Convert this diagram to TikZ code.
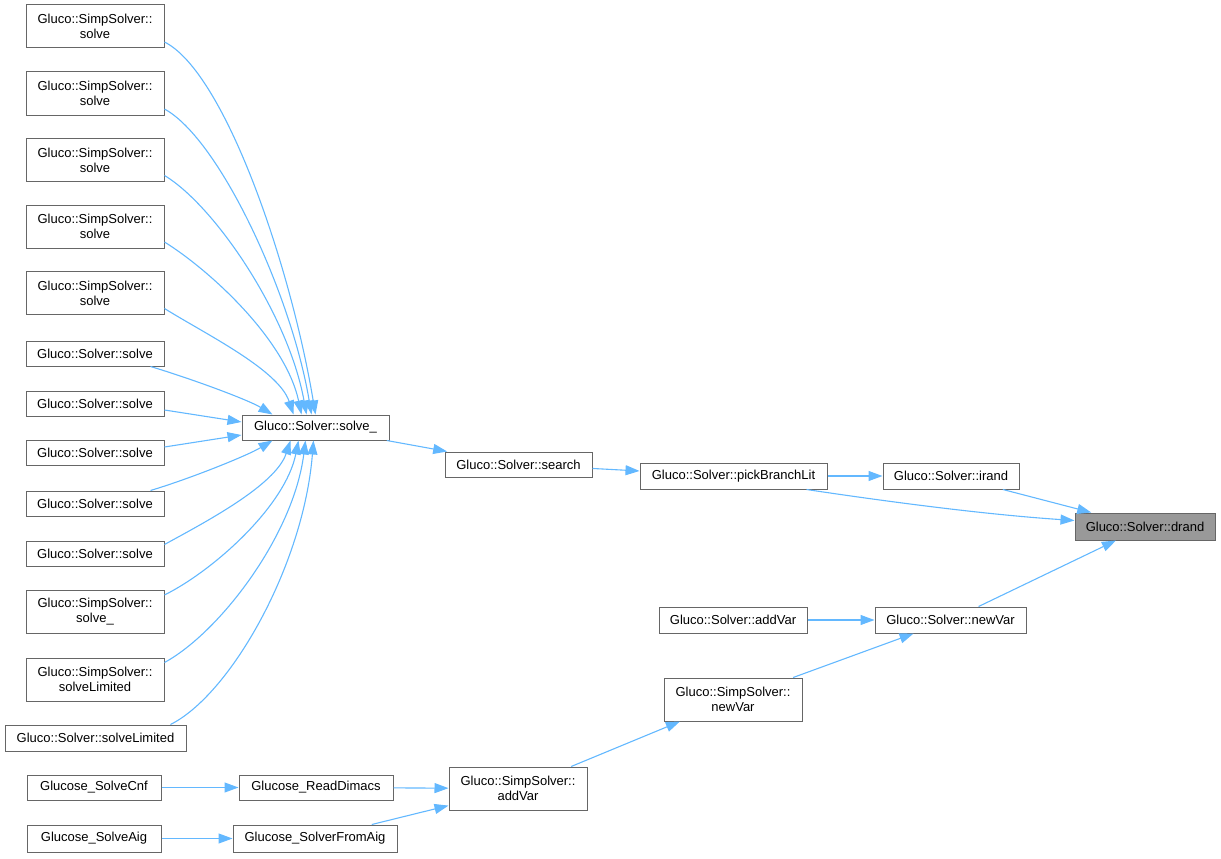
\documentclass[tikz,border=0pt]{standalone}
\usepackage{fontspec}
\setmainfont{Liberation Sans}
\usetikzlibrary{arrows.meta}
\definecolor{edgeblue}{HTML}{63B8FF}
\definecolor{boxgray}{HTML}{666666}
\definecolor{hlgray}{HTML}{999999}
\tikzset{
  box/.style={draw=boxgray, line width=1pt, fill=white, inner sep=0pt, align=center,
    font=\fontsize{13}{15}\selectfont},
  hl/.style={box, fill=hlgray},
  edge/.style={draw=edgeblue, line width=1.1pt, -{Triangle[length=14pt,width=10pt]}},
}
\begin{document}
\begin{tikzpicture}[x=1pt,y=-1pt]
\useasboundingbox (0,0) rectangle (1221,859);
% left column
\node[box, minimum width=138pt, minimum height=43pt] (s1) at (95,26.5) {Gluco::SimpSolver::\\solve};
\node[box, minimum width=138pt, minimum height=43pt] (s2) at (95,93.5) {Gluco::SimpSolver::\\solve};
\node[box, minimum width=138pt, minimum height=43pt] (s3) at (95,160) {Gluco::SimpSolver::\\solve};
\node[box, minimum width=138pt, minimum height=43pt] (s4) at (95,226.5) {Gluco::SimpSolver::\\solve};
\node[box, minimum width=138pt, minimum height=43pt] (s5) at (95,293) {Gluco::SimpSolver::\\solve};
\node[box, minimum width=138pt, minimum height=25pt] (v1) at (95,353.5) {Gluco::Solver::solve};
\node[box, minimum width=138pt, minimum height=25pt] (v2) at (95,403.5) {Gluco::Solver::solve};
\node[box, minimum width=138pt, minimum height=25pt] (v3) at (95,453) {Gluco::Solver::solve};
\node[box, minimum width=138pt, minimum height=25pt] (v4) at (95,503.5) {Gluco::Solver::solve};
\node[box, minimum width=138pt, minimum height=25pt] (v5) at (95,553.5) {Gluco::Solver::solve};
\node[box, minimum width=138pt, minimum height=43pt] (ssu) at (95,612) {Gluco::SimpSolver::\\solve\_};
\node[box, minimum width=138pt, minimum height=43pt] (ssl) at (95,679.5) {Gluco::SimpSolver::\\solveLimited};
\node[box, minimum width=181pt, minimum height=26pt] (sl) at (95.5,738) {Gluco::Solver::solveLimited};
\node[box, minimum width=134pt, minimum height=25pt] (cnf) at (94,787.5) {Glucose\_SolveCnf};
\node[box, minimum width=134pt, minimum height=27pt] (aig) at (94,838.5) {Glucose\_SolveAig};
% middle
\node[box, minimum width=147pt, minimum height=25pt] (su) at (315.5,427.5) {Gluco::Solver::solve\_};
\node[box, minimum width=154pt, minimum height=25pt] (rd) at (316,787.5) {Glucose\_ReadDimacs};
\node[box, minimum width=164pt, minimum height=27pt] (sfa) at (315,838.5) {Glucose\_SolverFromAig};
\node[box, minimum width=147pt, minimum height=25pt] (se) at (518.5,464.5) {Gluco::Solver::search};
\node[box, minimum width=138pt, minimum height=43pt] (sav) at (518,788.5) {Gluco::SimpSolver::\\addVar};
\node[box, minimum width=187pt, minimum height=26pt] (pb) at (733.5,476) {Gluco::Solver::pickBranchLit};
\node[box, minimum width=148pt, minimum height=26pt] (av) at (733,620) {Gluco::Solver::addVar};
\node[box, minimum width=138pt, minimum height=43pt] (snv) at (733,699.5) {Gluco::SimpSolver::\\newVar};
\node[box, minimum width=136pt, minimum height=26pt] (ir) at (951,476) {Gluco::Solver::irand};
\node[box, minimum width=151pt, minimum height=26pt] (nv) at (950.5,620) {Gluco::Solver::newVar};
\node[hl, minimum width=140pt, minimum height=27pt] (dr) at (1145,526.5) {Gluco::Solver::drand};
% edges into solve_
\draw[edge] ([yshift=-15.5pt]s1.east) .. controls +(60,30) and +(-25,-150) .. ([xshift=0pt]su.north);
\draw[edge] ([yshift=-15.5pt]s2.east) .. controls +(55,30) and +(-20,-120) .. ([xshift=-4pt]su.north);
\draw[edge] ([yshift=-15.5pt]s3.east) .. controls +(50,30) and +(-18,-100) .. ([xshift=-9pt]su.north);
\draw[edge] ([yshift=-15.5pt]s4.east) .. controls +(45,28) and +(-16,-75) .. ([xshift=-14pt]su.north);
\draw[edge] ([yshift=-15.5pt]s5.east) .. controls +(40,25) and +(-15,-45) .. ([xshift=-22pt]su.north);
\draw[edge] ([xshift=-14pt]v1.south east) .. controls +(40,12) and +(-25,-15) .. ([xshift=-43pt]su.north);
\draw[edge] ([yshift=-6.5pt]v2.east) -- ([yshift=5.5pt]su.west);
\draw[edge] ([yshift=6pt]v3.east) -- ([yshift=-7.5pt]su.west);
\draw[edge] ([xshift=-14pt]v4.north east) .. controls +(40,-12) and +(-25,15) .. ([xshift=-43pt]su.south);
\draw[edge] ([yshift=-4pt]v5.north east) .. controls +(40,-22) and +(-15,45) .. ([xshift=-25pt]su.south);
\draw[edge] ([yshift=-5pt]ssu.north east) .. controls +(50,-25) and +(-13,65) .. ([xshift=-17pt]su.south);
\draw[edge] ([yshift=-5pt]ssl.north east) .. controls +(55,-30) and +(-12,95) .. ([xshift=-10pt]su.south);
\draw[edge] ([xshift=-16pt]sl.north east) .. controls +(60,-30) and +(-10,125) .. ([xshift=-2pt]su.south);
% main chain
\draw[edge] (su) -- (se);
\draw[edge] (se) -- (pb);
\draw[edge] (pb) -- (ir);
\draw[edge] (ir) -- (dr);
\draw[edge] ([xshift=-21pt]pb.south east) .. controls +(80,12) and +(-90,-6) .. ([yshift=6pt]dr.west);
\draw[edge] (nv) -- (dr);
\draw[edge] (av) -- (nv);
\draw[edge] (snv) -- (nv);
\draw[edge] (sav) -- (snv);
\draw[edge] (rd) -- (sav);
\draw[edge] (sfa) -- (sav);
\draw[edge] (cnf) -- (rd);
\draw[edge] (aig) -- (sfa);
\end{tikzpicture}
\end{document}
